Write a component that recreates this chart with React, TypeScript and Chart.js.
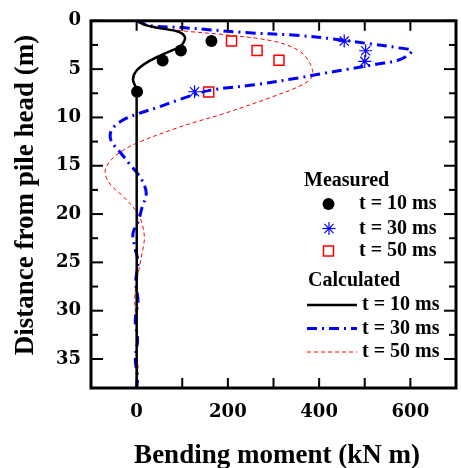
import { useEffect, useRef } from 'react';
import { Chart, registerables } from 'chart.js';

Chart.register(...registerables);

// Calculated t = 10 ms
const calc10X = [0, 20, 49, 92, 106, 96, 56, 21, -1, -8, -2, 0, 0];
const calc10Y = [0, 0.45, 0.74, 1.15, 1.75, 2.6, 3.5, 4.35, 5.2, 6.06, 6.9, 7.6, 38];

// Calculated t = 30 ms
const calc30X = [0, 28, 99, 234, 349, 435, 514, 575, 603, 578, 525, 464, 403, 356, 263, 160, 91, 50, 4, -31, -55, -56, -36, -16, 2, 16, 21, 12, 4, -8, -4, 3, -2, 3, -3, 2, -3, 2, 0];
const calc30Y = [0, 0.5, 0.7, 1.2, 1.5, 1.9, 2.4, 2.8, 3.1, 4.0, 4.5, 5.0, 5.5, 5.9, 6.6, 7.2, 8.2, 8.9, 9.6, 10.3, 11.3, 12.4, 13.6, 14.8, 15.8, 16.9, 18.0, 19.3, 20.7, 22.0, 23.4, 25, 27, 29, 31, 33, 35, 37, 38];

// Calculated t = 50 ms
const calc50X = [0, 24, 114, 185, 299, 356, 381, 385, 364, 292, 185, 134, 91, 3, -36, -61, -69, -58, -29, -4, 10, 17, 13, 6, 0, -4, -3, 2, 0, 3, 0];
const calc50Y = [0, 0.56, 1.1, 1.4, 2.1, 3.1, 4.5, 5.7, 6.6, 7.96, 9.7, 10.4, 11.05, 12.6, 13.6, 14.7, 15.7, 16.9, 18.2, 19.5, 20.7, 22.4, 23.8, 25.5, 27, 28.5, 30, 32, 34, 36, 38];

// Measured
const meas10X = [164, 97, 57, 1];
const meas10Y = [2.1, 3.07, 4.1, 7.34];
const meas30X = [455, 502, 500, 127];
const meas30Y = [2.1, 3.1, 4.2, 7.34];
const meas50X = [208, 264, 312, 158];
const meas50Y = [2.1, 3.07, 4.07, 7.37];

const xTickLabels = [0, 200, 400, 600];
const yTickLabels = [0, 5, 10, 15, 20, 25, 30, 35];

const xTitle = 'Bending moment (kN m)';
const yTitle = 'Distance from pile head (m)';
const legendMeasured = 'Measured';
const legendCalculated = 'Calculated';
const seriesNames = ['t = 10 ms', 't = 30 ms', 't = 50 ms'];

const BLUE = '#0000ff';
const RED = '#ff0000';
const DASH30 = [10, 5, 2, 5];
const DASH50 = [4, 3];

const pts = (xs: number[], ys: number[]) => xs.map((x, i) => ({ x, y: ys[i] }));

const framePlugin = {
  id: 'frameAndLegend',
  afterDatasetsDraw(chart: any) {
    const { ctx, chartArea: a, scales } = chart;
    const xs = scales.x;
    const ys = scales.y;
    ctx.save();
    ctx.strokeStyle = '#000';
    ctx.lineWidth = 2;
    const line = (x1: number, y1: number, x2: number, y2: number) => {
      ctx.beginPath();
      ctx.moveTo(x1, y1);
      ctx.lineTo(x2, y2);
      ctx.stroke();
    };
    xs.ticks.forEach((t: any) => {
      const v = t.value;
      if (Math.abs(v / 100 - Math.round(v / 100)) > 1e-6) return;
      const px = xs.getPixelForValue(v);
      line(px, a.bottom, px, a.bottom - 10);
      line(px, a.top, px, a.top + 10);
    });
    ys.ticks.forEach((t: any) => {
      const v = t.value;
      if (Math.abs(v / 2.5 - Math.round(v / 2.5)) > 1e-6) return;
      const py = ys.getPixelForValue(v);
      const len = Math.abs(v / 5 - Math.round(v / 5)) < 1e-6 ? 12 : 7;
      line(a.left, py, a.left + len, py);
      line(a.right, py, a.right - len, py);
    });
    ctx.lineWidth = 3;
    ctx.strokeRect(a.left, a.top, a.right - a.left, a.bottom - a.top);

    // Axis titles
    ctx.fillStyle = '#000';
    ctx.font = 'bold 27px "Liberation Serif"';
    ctx.textAlign = 'center';
    ctx.textBaseline = 'alphabetic';
    ctx.fillText(xTitle, 277, 463);
    ctx.save();
    ctx.translate(33, 195);
    ctx.rotate(-Math.PI / 2);
    ctx.fillText(yTitle, 0, 0);
    ctx.restore();

    // Legend
    ctx.font = 'bold 20px "Liberation Serif"';
    ctx.textAlign = 'left';
    ctx.textBaseline = 'middle';
    ctx.fillText(legendMeasured, 304, 181);
    const rowsM = [204, 228.5, 251];
    rowsM.forEach((y, i) => ctx.fillText(seriesNames[i], 359, y));
    // circle
    ctx.beginPath();
    ctx.arc(328.5, rowsM[0], 6, 0, Math.PI * 2);
    ctx.fill();
    // star
    ctx.strokeStyle = BLUE;
    ctx.lineWidth = 1.2;
    const sx = 329, sy = rowsM[1], r = 6.5;
    for (let k = 0; k < 4; k++) {
      const ang = (k * Math.PI) / 4;
      line(sx - Math.cos(ang) * r, sy - Math.sin(ang) * r, sx + Math.cos(ang) * r, sy + Math.sin(ang) * r);
    }
    // square
    ctx.strokeStyle = RED;
    ctx.lineWidth = 1.5;
    ctx.strokeRect(323.5, rowsM[2] - 5, 10, 10);

    ctx.fillStyle = '#000';
    ctx.fillText(legendCalculated, 308, 281);
    const rowsC = [305, 328.5, 352];
    rowsC.forEach((y, i) => ctx.fillText(seriesNames[i], 362, y));
    ctx.strokeStyle = '#000';
    ctx.lineWidth = 2.5;
    line(307, rowsC[0], 357, rowsC[0]);
    ctx.strokeStyle = BLUE;
    ctx.lineWidth = 3;
    ctx.setLineDash(DASH30);
    line(307, rowsC[1], 357, rowsC[1]);
    ctx.strokeStyle = RED;
    ctx.lineWidth = 1;
    ctx.setLineDash(DASH50);
    line(307, rowsC[2], 357, rowsC[2]);
    ctx.setLineDash([]);
    ctx.restore();
  },
};

export default function App() {
  const ref = useRef<HTMLCanvasElement | null>(null);
  useEffect(() => {
    if (!ref.current) return;
    const tickFont = { family: '"DejaVu Serif"', size: 18, weight: 'bold' as const };
    const chart = new Chart(ref.current, {
      type: 'scatter',
      data: {
        datasets: [
          {
            label: 'calc10',
            data: pts(calc10X, calc10Y),
            showLine: true,
            borderColor: '#000',
            borderWidth: 2.5,
            pointRadius: 0,
            tension: 0.35,
            fill: false,
          },
          {
            label: 'calc30',
            data: pts(calc30X, calc30Y),
            showLine: true,
            borderColor: BLUE,
            borderWidth: 3,
            borderDash: DASH30,
            pointRadius: 0,
            tension: 0.35,
            fill: false,
          },
          {
            label: 'calc50',
            data: pts(calc50X, calc50Y),
            showLine: true,
            borderColor: RED,
            borderWidth: 1,
            borderDash: DASH50,
            pointRadius: 0,
            tension: 0.35,
            fill: false,
          },
          {
            label: 'meas10',
            data: pts(meas10X, meas10Y),
            showLine: false,
            pointStyle: 'circle',
            pointRadius: 6,
            backgroundColor: '#000',
            borderColor: '#000',
            borderWidth: 0,
          },
          {
            label: 'meas30',
            data: pts(meas30X, meas30Y),
            showLine: false,
            pointStyle: 'star',
            pointRadius: 6.5,
            borderColor: BLUE,
            borderWidth: 1.2,
          },
          {
            label: 'meas50',
            data: pts(meas50X, meas50Y),
            showLine: false,
            pointStyle: 'rect',
            pointRadius: 7.07,
            backgroundColor: 'rgba(0,0,0,0)',
            borderColor: RED,
            borderWidth: 1.5,
          },
        ],
      },
      options: {
        responsive: false,
        animation: false,
        devicePixelRatio: 1,
        layout: { padding: { left: 0, top: 19, right: 7, bottom: 0 } },
        plugins: { legend: { display: false }, tooltip: { enabled: false }, title: { display: false } },
        scales: {
          x: {
            type: 'linear',
            position: 'bottom',
            min: -100,
            max: 700,
            grid: { display: false, drawTicks: false },
            border: { display: false },
            ticks: {
              stepSize: 100,
              autoSkip: false,
              maxRotation: 0,
              padding: 14,
              color: '#000',
              font: tickFont,
              callback: (v: any) => (xTickLabels.includes(Number(v)) ? String(v) : ''),
            },
            afterFit: (s: any) => {
              s.height = 80;
            },
          },
          y: {
            type: 'linear',
            reverse: true,
            min: 0,
            max: 38,
            grid: { display: false, drawTicks: false },
            border: { display: false },
            ticks: {
              stepSize: 2.5,
              autoSkip: false,
              padding: 10,
              color: '#000',
              font: tickFont,
              callback: (v: any) => (yTickLabels.includes(Number(v)) ? String(v) : ''),
            },
            afterFit: (s: any) => {
              s.width = 91;
            },
          },
        },
      },
      plugins: [framePlugin],
    });
    return () => chart.destroy();
  }, []);
  return (
    <div style={{ position: 'fixed', left: 0, top: 0, width: 461, height: 468, overflow: 'hidden', background: '#fff' }}>
      <canvas ref={ref} width={470} height={468} style={{ width: 470, height: 468, display: 'block' }} />
    </div>
  );
}
